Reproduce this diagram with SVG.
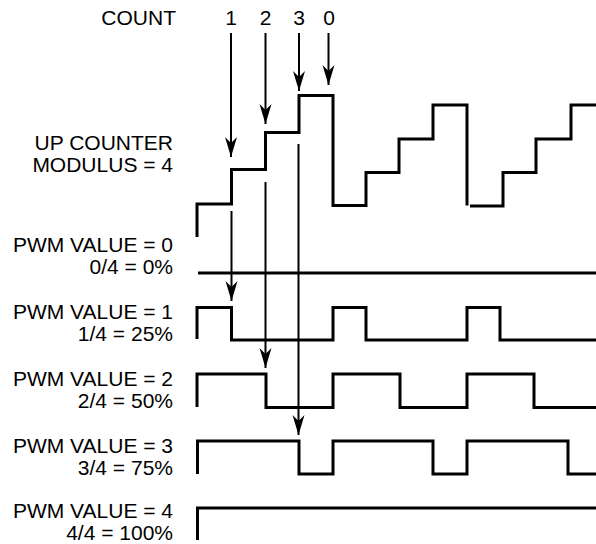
<svg xmlns="http://www.w3.org/2000/svg" width="596" height="544" viewBox="0 0 596 544">
<style>
text{font-family:"Liberation Sans",Arial,sans-serif;font-size:21px;fill:#000}
.lbl{text-anchor:end}
.num{text-anchor:middle}
.wave{fill:none;stroke:#000;stroke-width:3;stroke-linejoin:miter;stroke-linecap:butt}
.arr{fill:none;stroke:#000;stroke-width:2;marker-end:url(#ah)}
</style>
<defs>
<marker id="ah" markerUnits="userSpaceOnUse" markerWidth="24" markerHeight="16" viewBox="-20 -8 24 16" refX="0" refY="0" orient="auto" overflow="visible">
<path d="M0,0 L-20,-6 L-14,0 L-20,6 Z" fill="#000"/>
</marker>
</defs>
<rect width="596" height="544" fill="#fff"/>
<g id="labels">
<text class="lbl" x="176" y="25">COUNT</text>
<text class="lbl" x="173" y="150">UP COUNTER</text>
<text class="lbl" x="173" y="172">MODULUS = 4</text>
</g>
<g id="count-numbers">
<text class="num" x="231" y="25">1</text>
<text class="num" x="265.5" y="25">2</text>
<text class="num" x="299" y="25">3</text>
<text class="num" x="329" y="25">0</text>
</g>
<g id="counter">
<path class="wave" d="M197,237 V204 H231.5 V169.5 H265.5 V132.5 H299 V95.5 H333 V205.5 H366 V172.5 H399 V139 H433 V105 H467 V205.5"/>
<path class="wave" d="M470,206 H503 V172.5 H536 V139 H571 V105 H596"/>
</g>
<g id="pwm0">
<text class="lbl" x="173" y="252">PWM VALUE = 0</text>
<text class="lbl" x="173" y="273.5">0/4 = 0%</text>
<path class="wave" d="M198,273 H596"/>
</g>
<g id="pwm1">
<text class="lbl" x="173" y="319">PWM VALUE = 1</text>
<text class="lbl" x="173" y="340.5">1/4 = 25%</text>
<path class="wave" d="M197,339 V307.5 H231.5 V340 H333 V307.5 H366 V340 H467 V307.5 H500 V340 H596"/>
</g>
<g id="pwm2">
<text class="lbl" x="173" y="386">PWM VALUE = 2</text>
<text class="lbl" x="173" y="407.5">2/4 = 50%</text>
<path class="wave" d="M197,407 V374 H266 V407.5 H333 V374 H400 V407.5 H467 V374 H534 V407.5 H596"/>
</g>
<g id="pwm3">
<text class="lbl" x="173" y="453">PWM VALUE = 3</text>
<text class="lbl" x="173" y="474.5">3/4 = 75%</text>
<path class="wave" d="M197.5,474 V441 H299 V474 H333 V441 H433 V474 H467 V441 H568 V474 H596"/>
</g>
<g id="pwm4">
<text class="lbl" x="173" y="518">PWM VALUE = 4</text>
<text class="lbl" x="173" y="539.5">4/4 = 100%</text>
<path class="wave" d="M197.5,540 V508 H596"/>
</g>
<g id="connectors">
<line class="arr" x1="231" y1="33" x2="231" y2="157"/>
<line class="arr" x1="265.5" y1="33" x2="265.5" y2="124"/>
<line class="arr" x1="299" y1="33" x2="299" y2="91"/>
<line class="arr" x1="328.5" y1="33" x2="328.5" y2="85"/>
<line class="arr" x1="231.5" y1="211" x2="231.5" y2="301"/>
<line class="arr" x1="265.5" y1="182" x2="265.5" y2="368"/>
<line class="arr" x1="298.5" y1="144" x2="298.5" y2="435"/>
</g>
</svg>
